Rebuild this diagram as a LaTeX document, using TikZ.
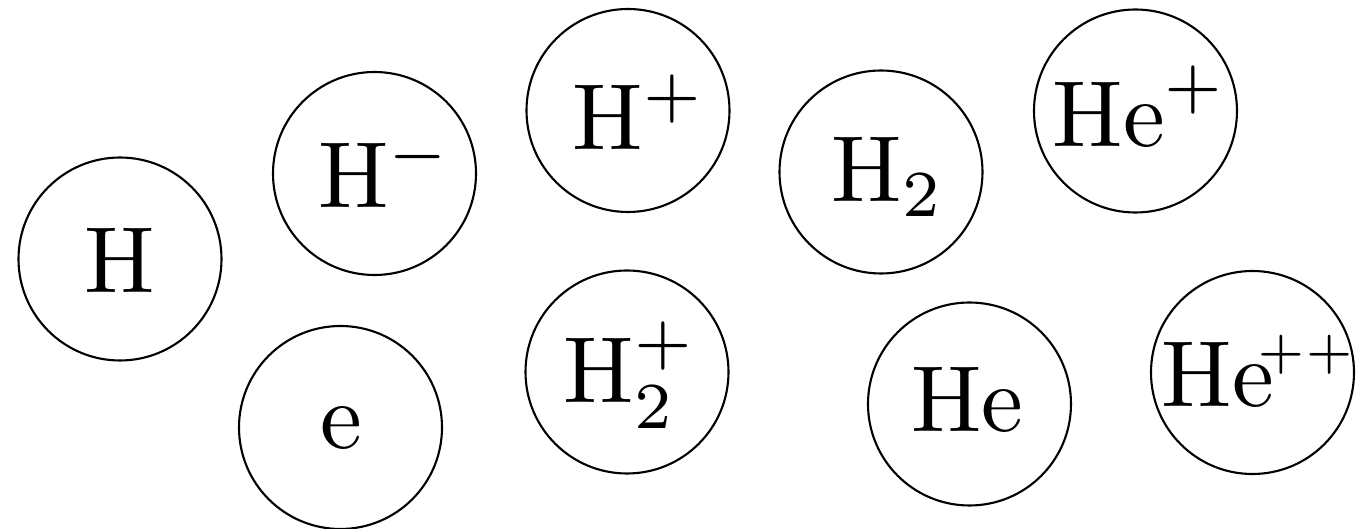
\documentclass[tikz,border=0pt]{standalone}
\usepackage{amsmath}
\usetikzlibrary{positioning}
\tikzset{
 particle/.style={circle,draw=black,line width=0.6pt,minimum size=2.03cm,inner sep=0pt},
 symb/.style={anchor=base,scale=2.67,transform shape,inner sep=0pt,font=\fontsize{10}{12}\selectfont}
}
\begin{document}
\begin{tikzpicture}
\useasboundingbox (0,0) rectangle (13.56,-5.29);
\node[particle] (h) at (1.20,-2.59) {};
\node[particle] (hminus) at (3.745,-1.735) {};
\node[particle] (el) at (3.405,-4.275) {};
\node[particle] (hplus) at (6.28,-1.105) {};
\node[particle] (htwoplus) at (6.27,-3.72) {};
\node[particle] (htwo) at (8.81,-1.72) {};
\node[particle] (he) at (9.695,-4.04) {};
\node[particle] (heplus) at (11.355,-1.11) {};
\node[particle] (heplusplus) at (12.525,-3.725) {};
% symbols
\node[symb] (th) at (1.20,-2.93) {$\mathrm{H}$};
\node[symb] (thminus) at (3.85,-2.08) {$\mathrm{H}^-$};
\node[symb] (tel) at (3.41,-4.49) {$\mathrm{e}$};
\node[symb] (thplus) at (6.39,-1.50) {$\mathrm{H}^+$};
\node[symb] (thtwoplus) at (6.30,-4.03) {$\mathrm{H}_2^+$};
\node[symb] (thtwo) at (8.88,-2.02) {$\mathrm{H}_2$};
\node[symb] (the) at (9.675,-4.32) {$\mathrm{He}$};
\node[symb] (theplus) at (11.40,-1.47) {$\mathrm{He}^+$};
\node[symb] (theplusplus) at (12.60,-4.07) {$\mathrm{He}^{\mkern-4mu\scriptscriptstyle ++}$};
\end{tikzpicture}
\end{document}
